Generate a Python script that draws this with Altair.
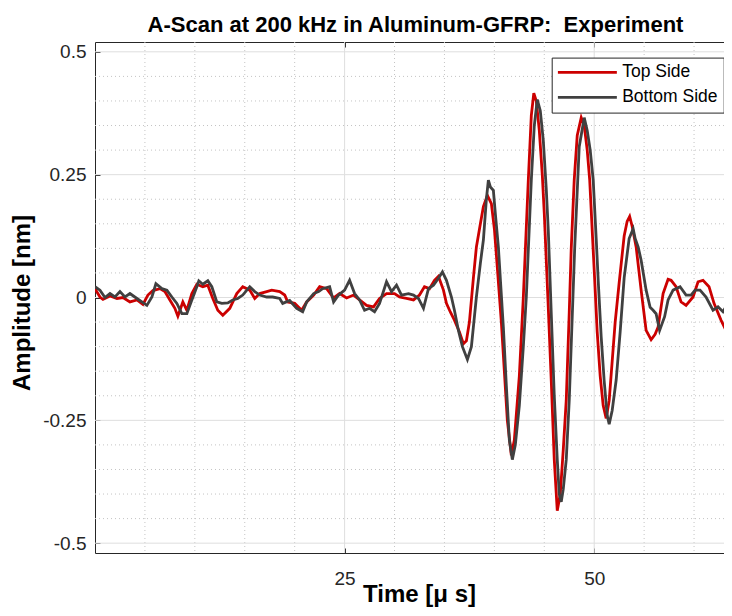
import altair as alt
import pandas as pd

# ---- data ----
t_top = [0.0, 0.5, 0.8, 1.5, 2.2, 2.8, 3.5, 4.2, 4.8, 5.3,
         5.8, 6.5, 7.0, 7.5, 8.0, 8.3, 8.8, 9.2, 9.7, 10.2,
         10.8, 11.3, 11.8, 12.3, 12.8, 13.5, 14.2, 14.8, 15.5, 16.0,
         16.5, 17.2, 17.7, 18.5, 19.0, 19.3, 20.0, 20.7, 21.2, 21.9,
         22.5, 23.2, 23.9, 24.5, 25.2, 25.9, 26.5, 27.2, 27.9, 28.5,
         29.2, 30.0, 30.5, 31.2, 31.9, 32.5, 33.0, 33.5, 34.0, 34.4,
         34.9, 35.2, 35.6, 36.0, 36.5, 36.9, 37.2, 37.5, 37.9, 38.2,
         38.6, 38.9, 39.3, 39.7, 40.0, 40.3, 40.7, 41.0, 41.3, 41.7,
         42.0, 42.5, 42.9, 43.4, 43.7, 43.95, 44.2, 44.5, 44.8, 45.0,
         45.4, 45.7, 46.0, 46.3, 46.6, 46.9, 47.2, 47.5, 47.7, 48.0,
         48.3, 48.7, 49.0, 49.3, 49.55, 50.05, 50.3, 50.6, 50.9, 51.2,
         51.5, 51.8, 52.1, 52.5, 53.0, 53.3, 53.55, 53.8, 54.2, 54.7,
         55.2, 55.7, 56.1, 56.4, 56.9, 57.4, 57.7, 58.2, 58.7, 59.2,
         59.9, 60.4, 60.9, 61.5, 62.0, 62.7, 63.2, 63.7, 64.2, 65.0]
a_top = [0.018, 0.001, -0.004, 0.003, -0.002, 0.0, -0.009, -0.005, -0.014, 0.005,
         0.014, 0.018, 0.012, -0.005, -0.022, -0.038, -0.009, -0.026, 0.008, 0.027,
         0.022, 0.025, -0.002, -0.026, -0.036, -0.022, 0.008, 0.022, 0.015, -0.002,
         0.008, 0.012, 0.015, 0.012, 0.005, -0.009, -0.012, -0.026, -0.009, 0.005,
         0.022, 0.018, -0.001, 0.008, -0.001, 0.005, -0.005, -0.016, -0.019, -0.002,
         0.008, 0.008, 0.001, -0.002, -0.005, 0.005, 0.022, 0.018, 0.035, 0.043,
         0.015, -0.012, -0.03, -0.046, -0.07, -0.094, -0.088, -0.05, 0.04, 0.103,
         0.15, 0.185, 0.208, 0.191, 0.14, 0.06, -0.05, -0.15, -0.25, -0.321,
         -0.29, -0.16, 0.0, 0.239, 0.37, 0.416, 0.40, 0.34, 0.25, 0.171,
         -0.02, -0.17, -0.33, -0.434, -0.40, -0.31, -0.209, -0.03, 0.10, 0.24,
         0.33, 0.366, 0.35, 0.30, 0.239, 0.035, -0.07, -0.16, -0.22, -0.246,
         -0.21, -0.13, -0.05, 0.03, 0.125, 0.155, 0.165, 0.145, 0.103, 0.015,
         -0.067, -0.086, -0.075, -0.06, 0.008, 0.037, 0.035, 0.022, -0.009, -0.016,
         0.001, 0.032, 0.035, 0.022, -0.012, -0.046, -0.067, -0.033, -0.01, 0.0]

t_bot = [0.0, 0.5, 1.0, 1.5, 2.0, 2.5, 3.0, 3.5, 4.2, 4.7,
         5.2, 5.7, 6.1, 6.7, 7.2, 7.7, 8.2, 8.7, 9.2, 9.7,
         10.2, 10.4, 10.8, 11.3, 11.7, 12.2, 12.7, 13.3, 13.8, 14.3,
         14.8, 15.5, 16.0, 16.5, 17.2, 17.8, 18.5, 18.8, 19.5, 20.2,
         20.8, 21.2, 21.9, 22.4, 22.8, 23.5, 23.9, 24.4, 25.0, 25.5,
         26.0, 26.5, 27.0, 27.5, 28.0, 28.5, 29.2, 29.7, 30.2, 30.7,
         31.4, 31.9, 32.4, 32.9, 33.4, 33.9, 34.4, 34.8, 35.2, 35.7,
         36.0, 36.4, 36.8, 37.3, 37.7, 38.2, 38.6, 38.9, 39.2, 39.4,
         39.6, 39.9, 40.1, 40.4, 40.9, 41.2, 41.5, 41.8, 42.1, 42.5,
         42.9, 43.2, 43.7, 44.0, 44.3, 44.6, 44.9, 45.2, 45.4, 45.7,
         46.0, 46.3, 46.5, 46.7, 46.9, 47.2, 47.5, 48.05, 48.5, 49.0,
         49.3, 49.6, 49.9, 50.2, 50.4, 50.7, 51.0, 51.3, 51.5, 51.8,
         52.2, 52.6, 53.0, 53.5, 53.9, 54.1, 54.4, 54.7, 55.2, 55.6,
         55.9, 56.2, 56.55, 57.05, 57.4, 57.9, 58.6, 59.2, 59.7, 60.1,
         60.6, 61.2, 61.9, 62.4, 62.9, 63.4, 63.7, 64.3, 65.0]
a_bot = [0.022, 0.015, 0.0, 0.008, 0.001, 0.012, 0.001, 0.008, -0.002, -0.009,
         -0.016, 0.001, 0.028, 0.018, 0.015, 0.001, -0.012, -0.033, -0.033, -0.005,
         0.022, 0.034, 0.027, 0.034, 0.022, -0.009, -0.012, -0.011, -0.005, -0.002,
         0.005, 0.022, 0.012, 0.005, 0.001, 0.001, -0.002, -0.012, -0.006, -0.022,
         -0.029, -0.009, 0.008, 0.012, 0.018, 0.022, -0.009, 0.005, 0.015, 0.035,
         0.008, -0.005, -0.026, -0.022, -0.029, -0.012, 0.032, 0.012, 0.025, 0.005,
         0.008, 0.005, -0.002, -0.022, 0.018, 0.025, 0.039, 0.052, 0.035, 0.001,
         -0.026, -0.067, -0.10, -0.126, -0.10, 0.001, 0.07, 0.117, 0.20, 0.239,
         0.225, 0.218, 0.17, 0.103, -0.06, -0.18, -0.29, -0.330, -0.30, -0.22,
         -0.10, 0.001, 0.239, 0.35, 0.403, 0.38, 0.320, 0.22, 0.137, -0.033,
         -0.20, -0.33, -0.40, -0.416, -0.39, -0.33, -0.209, 0.103, 0.307, 0.366,
         0.34, 0.30, 0.239, 0.12, 0.035, -0.08, -0.17, -0.24, -0.258, -0.23,
         -0.168, -0.07, 0.04, 0.12, 0.14, 0.12, 0.103, 0.076, 0.015, -0.02,
         -0.026, -0.033, -0.067, -0.039, -0.005, 0.015, 0.022, 0.005, 0.005, 0.015,
         0.015, 0.001, -0.026, -0.019, -0.029, -0.012, 0.015, 0.02, 0.0]

series_names = ["Top Side", "Bottom Side"]
series_colors = ["#CC0000", "#404040"]

major_x = [25, 50]
minor_x = [5, 10, 15, 20, 30, 35, 40, 45, 55, 60]
major_y = [-0.5, -0.25, 0, 0.25, 0.5]
minor_y = [-0.45, -0.4, -0.35, -0.3, -0.2, -0.15, -0.1, -0.05,
           0.05, 0.1, 0.15, 0.2, 0.3, 0.35, 0.4, 0.45]

# ---- build chart ----
W, H = 629, 511
FONT = "Liberation Sans"
AX = "#262626"

df = pd.concat([
    pd.DataFrame({"t": t_top, "a": a_top, "series": series_names[0], "k": 0}),
    pd.DataFrame({"t": t_bot, "a": a_bot, "series": series_names[1], "k": 1}),
], ignore_index=True)

xs = alt.Scale(domain=[0, 63.0], nice=False, zero=False)
ys = alt.Scale(domain=[-0.52, 0.52], nice=False, zero=False)

# top border + inward ticks at top
minor_x_layer = alt.Chart(pd.DataFrame({"t": minor_x})).mark_rule(
    color="#c4c4c4", strokeDash=[1, 3], strokeWidth=1
).encode(
    x=alt.X("t:Q", scale=xs, axis=alt.Axis(
        orient="bottom", offset=-H, values=major_x, ticks=True, tickSize=5,
        tickColor=AX, domain=True, domainColor=AX, labels=False, grid=False,
        title=None))
)

minor_y_layer = alt.Chart(pd.DataFrame({"a": minor_y})).mark_rule(
    color="#c4c4c4", strokeDash=[1, 3], strokeWidth=1
).encode(y=alt.Y("a:Q", scale=ys, axis=None))

major_x_layer = alt.Chart(pd.DataFrame({"t": major_x})).mark_rule(
    color="#dedede", strokeWidth=1
).encode(x=alt.X("t:Q", scale=xs, axis=None))

major_y_layer = alt.Chart(pd.DataFrame({"a": major_y})).mark_rule(
    color="#dedede", strokeWidth=1
).encode(y=alt.Y("a:Q", scale=ys, axis=None))

lines = alt.Chart(df).mark_line(strokeWidth=2.8, clip=True).encode(
    x=alt.X("t:Q", scale=xs, axis=alt.Axis(
        orient="top", offset=-H, values=major_x, ticks=True, tickSize=5,
        tickColor=AX, domain=True, domainColor=AX, grid=False,
        labels=True, labelPadding=-21, labelBaseline="top", labelFlush=False,
        labelFont=FONT, labelFontSize=19, labelColor=AX,
        title="Time [μ s]", titleFont=FONT, titleFontSize=24,
        titleFontWeight="bold", titleColor="#000000",
        titleX=324, titleY=48, titleBaseline="alphabetic", titleAlign="center")),
    y=alt.Y("a:Q", scale=ys, axis=alt.Axis(
        orient="right", offset=-W, values=major_y, ticks=True, tickSize=5,
        tickColor=AX, domain=True, domainColor=AX, grid=False,
        labels=True, labelPadding=-14, labelAlign="right", labelBaseline="middle",
        labelFlush=False, labelExpr="toString(datum.value)",
        labelFont=FONT, labelFontSize=19, labelColor=AX,
        title="Amplitude [nm]", titleFont=FONT, titleFontSize=24,
        titleFontWeight="bold", titleColor="#000000", titleAngle=270,
        titleX=-65.5, titleY=260.5, titleBaseline="alphabetic", titleAlign="center")),
    color=alt.Color("series:N", scale=alt.Scale(domain=series_names, range=series_colors),
                    legend=alt.Legend(
                        title=None, orient="none", legendX=456.7, legendY=15.6,
                        symbolType="M-1.45,0H8.55", symbolSize=139, symbolStrokeWidth=2.7,
                        labelFont=FONT, labelFontSize=17.5, labelColor="#000000",
                        labelOffset=47, padding=6, rowPadding=6,
                        strokeColor=AX, fillColor="white", cornerRadius=0)),
    order=alt.Order("k:Q"),
)

chart = alt.layer(
    minor_x_layer, minor_y_layer, major_x_layer, major_y_layer, lines
).resolve_axis(x="independent", y="independent").properties(
    width=W, height=H,
    title=alt.TitleParams(
        "A-Scan at 200 kHz in Aluminum-GFRP:\u00a0 Experiment",
        font=FONT, fontSize=22, fontWeight="bold", color="#000000",
        anchor="middle", frame="group", dx=6, dy=22, offset=10, baseline="alphabetic"),
    padding={"left": 87, "top": 34, "right": 0, "bottom": 55},
    autosize=alt.AutoSizeParams(type="none"),
).configure_view(stroke=None)

chart.save("out.html", embed_options={"renderer": "svg", "actions": False})
